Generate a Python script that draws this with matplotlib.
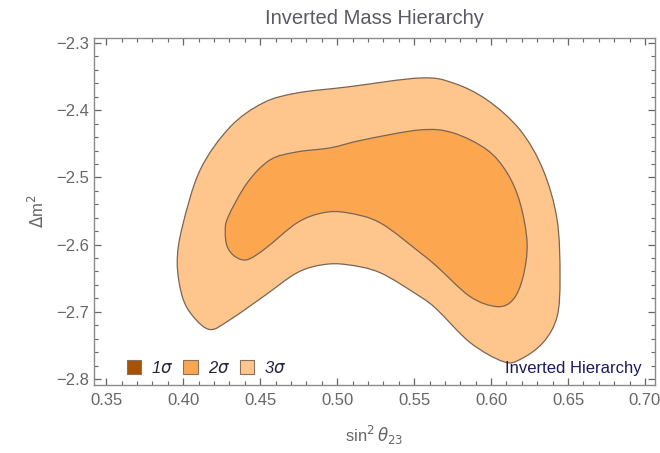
import numpy as np
import matplotlib.pyplot as plt
from matplotlib.path import Path
from matplotlib.patches import PathPatch, Patch
from matplotlib.ticker import MultipleLocator, FuncFormatter

plt.rcParams['font.family'] = ['Liberation Sans', 'DejaVu Sans']
plt.rcParams['mathtext.fontset'] = 'dejavusans'

# 3 sigma contour boundary (sin^2 theta23, delta m^2)
s3_x = [0.3994, 0.411, 0.4305, 0.452, 0.474, 0.5065, 0.5539, 0.5753, 0.5974,
        0.6188, 0.6338, 0.6429, 0.6448, 0.6429, 0.6338, 0.6188, 0.6078, 0.5864, 0.5649,
        0.5539, 0.5279, 0.5065, 0.4909, 0.474, 0.452, 0.4305, 0.4175, 0.4065, 0.3994, 0.3961]
s3_y = [-2.5734, -2.4887, -2.4248, -2.389, -2.3743, -2.3654, -2.352, -2.3594, -2.3847,
        -2.4293, -2.4887, -2.563, -2.6477, -2.7071, -2.7458, -2.771, -2.774, -2.7458, -2.6967,
        -2.6774, -2.6418, -2.6299, -2.6299, -2.6418, -2.6774, -2.7116, -2.7264, -2.7071, -2.6774, -2.6269]

# 2 sigma contour boundary
s2_x = [0.4292, 0.4416, 0.4565, 0.474, 0.4955, 0.5169, 0.5539, 0.5753, 0.5974,
        0.6104, 0.6188, 0.6234, 0.6208, 0.6143, 0.6039, 0.5864, 0.5649, 0.5539, 0.5279,
        0.5065, 0.4909, 0.474, 0.4532, 0.4416, 0.4338, 0.4286, 0.4273]
s2_y = [-2.5585, -2.508, -2.4738, -2.462, -2.456, -2.4441, -2.4293, -2.4337, -2.459,
        -2.4932, -2.5377, -2.5972, -2.6477, -2.6819, -2.6923, -2.6774, -2.6328, -2.612, -2.5675,
        -2.5526, -2.5526, -2.5675, -2.6061, -2.6224, -2.618, -2.6031, -2.5808]

levels = ['1$\\sigma$', '2$\\sigma$', '3$\\sigma$']
colors = ['#a65300', '#fca650', '#fec68c']


def smooth_closed(xs, ys):
    # closed Catmull-Rom curve through the points, as cubic Bezier segments
    p = np.column_stack([xs, ys])
    n = len(p)
    verts = [p[0]]
    codes = [Path.MOVETO]
    for i in range(n):
        p0, p1, p2, p3 = p[i - 1], p[i], p[(i + 1) % n], p[(i + 2) % n]
        verts += [p1 + (p2 - p0) / 6, p2 - (p3 - p1) / 6, p2]
        codes += [Path.CURVE4] * 3
    return Path(verts, codes)


fig = plt.figure(figsize=(6.6, 4.53), dpi=100)
ax = fig.add_axes([0.1424, 0.150, 0.85, 0.766])

edge = '#7a6552'
ax.add_patch(PathPatch(smooth_closed(s3_x, s3_y), facecolor=colors[2], edgecolor=edge, lw=0.9))
ax.add_patch(PathPatch(smooth_closed(s2_x, s2_y), facecolor=colors[1], edgecolor=edge, lw=0.9))

ax.set_xlim(0.342, 0.7065)
ax.set_ylim(-2.809, -2.2926)

grey = '#666666'
ax.xaxis.set_major_locator(MultipleLocator(0.05))
ax.xaxis.set_minor_locator(MultipleLocator(0.01))
ax.yaxis.set_major_locator(MultipleLocator(0.1))
ax.yaxis.set_minor_locator(MultipleLocator(0.02))
ax.xaxis.set_major_formatter(FuncFormatter(lambda v, p: f'{v:.2f}'))
ax.yaxis.set_major_formatter(FuncFormatter(lambda v, p: f'{v:.1f}'.replace('-', '\u2212')))
ax.tick_params(which='both', direction='in', top=True, right=True, color=grey,
               labelcolor=grey, labelsize=12)
ax.tick_params(which='major', length=5, width=0.9)
ax.tick_params(which='minor', length=3, width=0.8)
ax.tick_params(axis='x', pad=6)
ax.tick_params(axis='y', pad=3.5)
for s in ax.spines.values():
    s.set_color('#8a8a8a')
    s.set_linewidth(1.0)

ax.set_title('Inverted Mass Hierarchy', fontsize=14.5, color='#5a5a66', pad=10)
ax.set_xlabel('sin$^2\\,\\theta_{23}$', fontsize=12, color=grey, labelpad=11)
ax.set_ylabel('$\\Delta$m$^2$', fontsize=12, color=grey, labelpad=7)

handles = [Patch(facecolor=c, edgecolor='#8a7060', lw=0.8) for c in colors]
leg = ax.legend(handles, levels, loc='lower left', bbox_to_anchor=(0.059, 0.027), ncol=3,
                frameon=False, fontsize=12, handlelength=0.85, handleheight=0.85,
                handletextpad=0.6, columnspacing=0.6, borderpad=0, borderaxespad=0)
for t in leg.get_texts():
    t.set_color('#23233a')
    t.set_fontstyle('italic')

ax.text(0.977, 0.026, 'Inverted Hierarchy', transform=ax.transAxes, ha='right', va='bottom',
        fontsize=12, color='#1a1a5e')

fig.savefig('out.png', dpi=100)
